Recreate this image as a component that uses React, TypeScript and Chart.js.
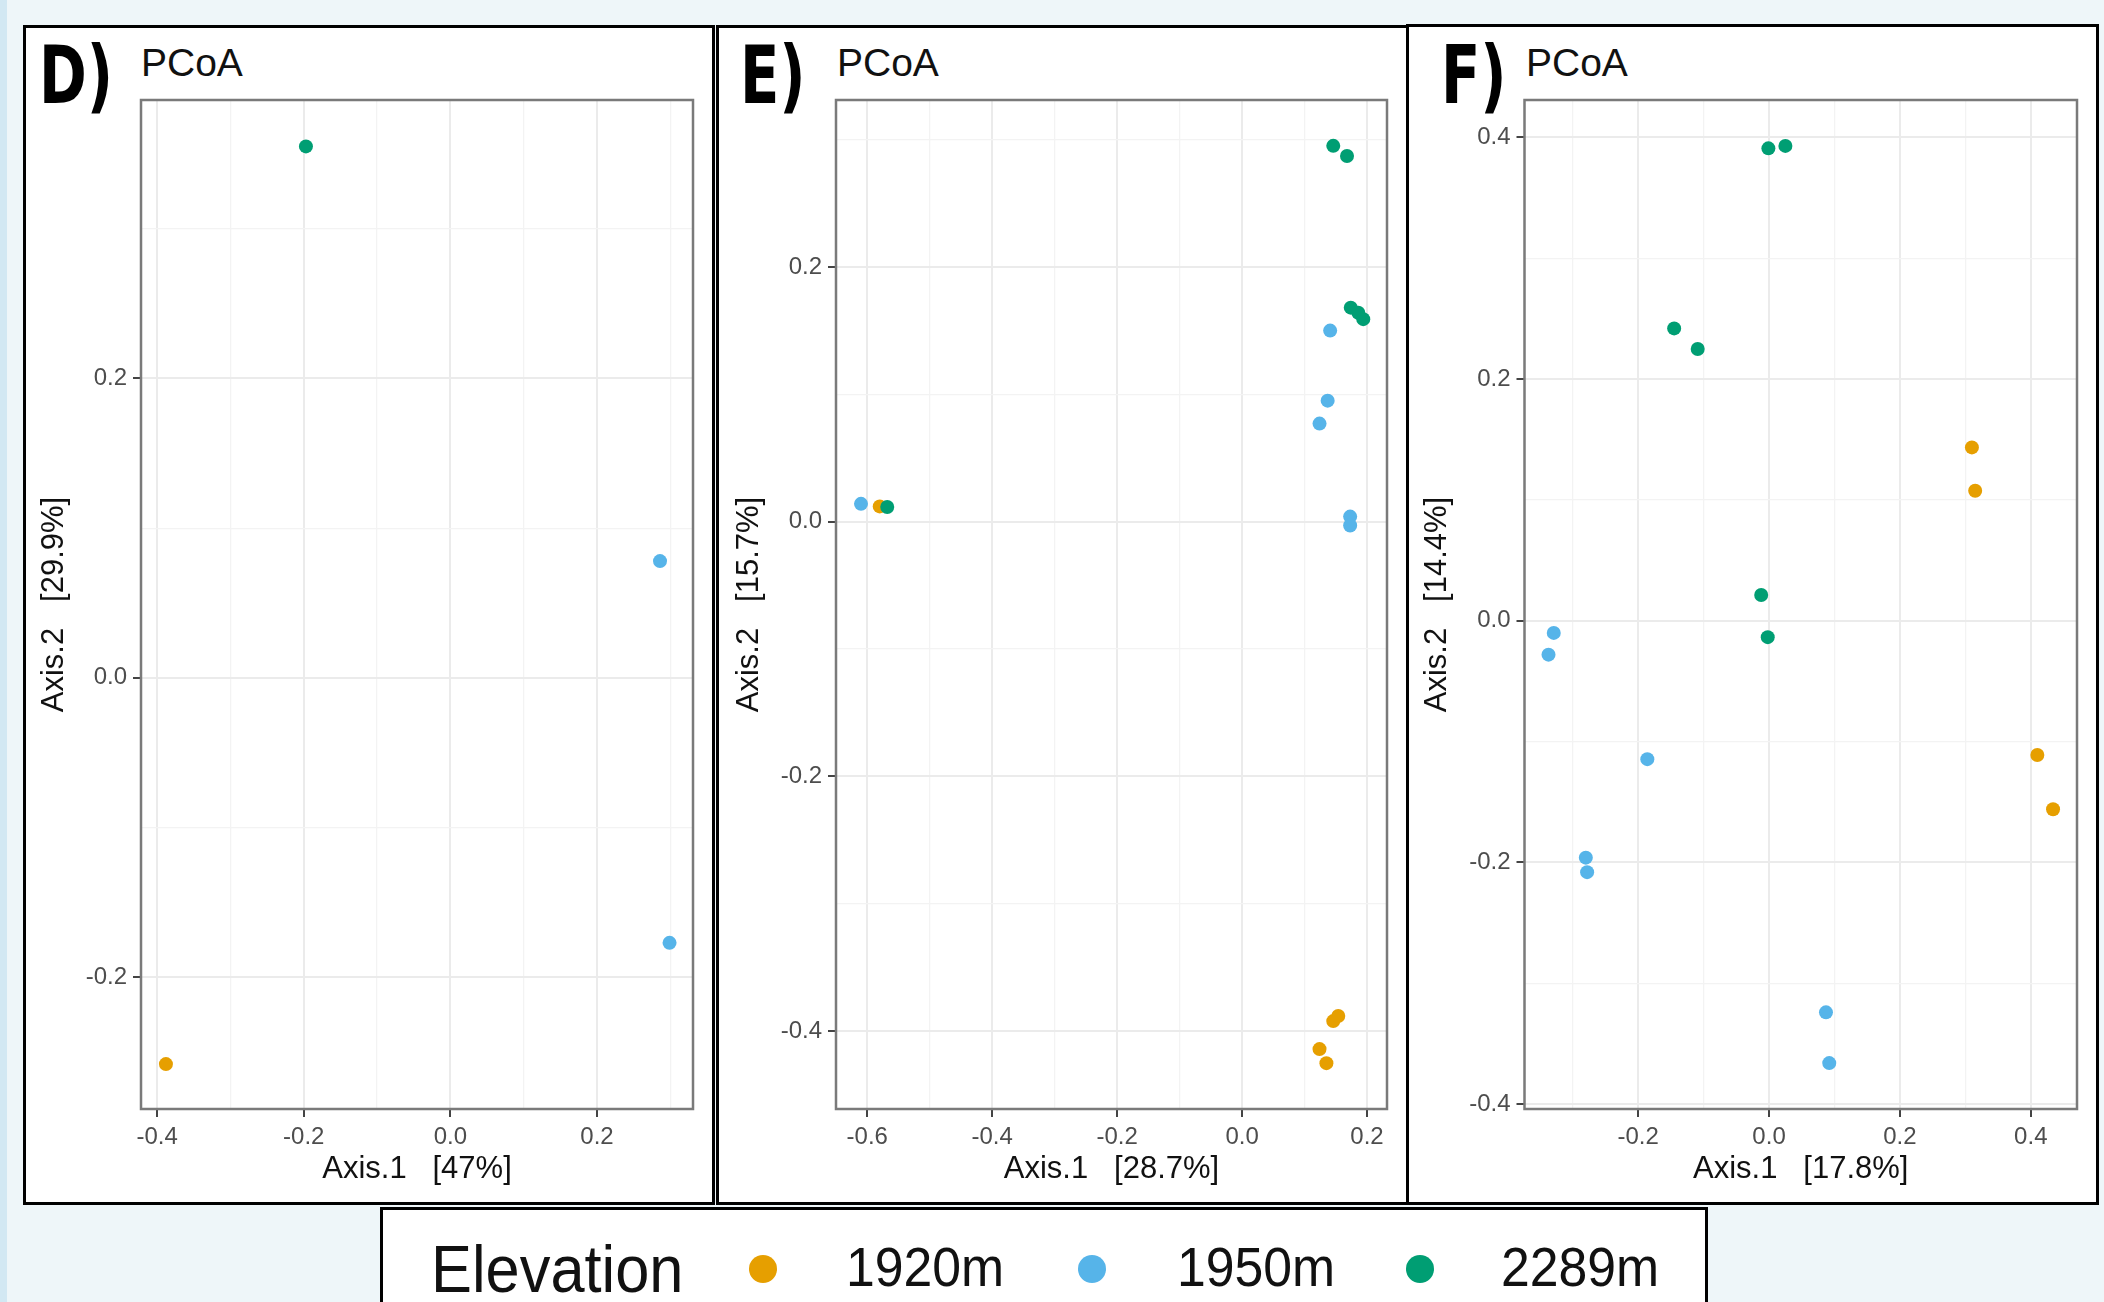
import React, { useEffect, useRef } from 'react';
import { Chart, registerables } from 'chart.js';
Chart.register(...registerables);

const ELEVATION_LABELS = ['1920m', '1950m', '2289m'];
const ELEVATION_COLORS = ['#E69F00', '#56B4E9', '#009E73'];

// Panel D
const D_1920_X = [-0.388];
const D_1920_Y = [-0.258];
const D_1950_X = [0.286, 0.299];
const D_1950_Y = [0.078, -0.177];
const D_2289_X = [-0.197];
const D_2289_Y = [0.355];

// Panel E
const E_1920_X = [0.146, 0.154, 0.124, 0.135, -0.58];
const E_1920_Y = [-0.392, -0.388, -0.414, -0.425, 0.012];
const E_1950_X = [0.141, 0.137, 0.124, 0.173, 0.173, -0.61];
const E_1950_Y = [0.15, 0.095, 0.077, 0.004, -0.003, 0.014];
const E_2289_X = [0.146, 0.168, 0.174, 0.186, 0.194, -0.568];
const E_2289_Y = [0.295, 0.287, 0.168, 0.164, 0.159, 0.0115];

// Panel F
const F_1920_X = [0.31, 0.315, 0.41, 0.434];
const F_1920_Y = [0.1435, 0.1076, -0.111, -0.156];
const F_1950_X = [-0.329, -0.337, -0.186, -0.28, -0.278, 0.087, 0.092];
const F_1950_Y = [-0.01, -0.028, -0.1145, -0.196, -0.208, -0.324, -0.366];
const F_2289_X = [-0.001, 0.025, -0.145, -0.109, -0.012, -0.002];
const F_2289_Y = [0.391, 0.393, 0.242, 0.225, 0.0213, -0.0135];

const PANEL_LETTERS = ['D)', 'E)', 'F)'];
const PANEL_TITLE = 'PCoA';
const X_TITLES = ['Axis.1   [47%]', 'Axis.1   [28.7%]', 'Axis.1   [17.8%]'];
const Y_TITLES = ['Axis.2   [29.9%]', 'Axis.2   [15.7%]', 'Axis.2   [14.4%]'];
const X_LIMITS = [[-0.422, 0.331], [-0.65, 0.232], [-0.3737, 0.4706]];
const Y_LIMITS = [[-0.288, 0.386], [-0.461, 0.331], [-0.404, 0.431]];
const SERIES = [
  [[D_1920_X, D_1920_Y], [D_1950_X, D_1950_Y], [D_2289_X, D_2289_Y]],
  [[E_1920_X, E_1920_Y], [E_1950_X, E_1950_Y], [E_2289_X, E_2289_Y]],
  [[F_1920_X, F_1920_Y], [F_1950_X, F_1950_Y], [F_2289_X, F_2289_Y]],
];

const LAYOUT = [
  { box: { left: 23, top: 25, width: 692, height: 1180 }, area: { left: 141, top: 100, right: 693, bottom: 1109 }, letterLeft: 39, titleLeft: 141, yTitlePad: 13 },
  { box: { left: 716, top: 25, width: 693, height: 1180 }, area: { left: 836, top: 100, right: 1387, bottom: 1109 }, letterLeft: 740, titleLeft: 837, yTitlePad: 15 },
  { box: { left: 1406, top: 24, width: 693, height: 1181 }, area: { left: 1524.5, top: 100, right: 2077, bottom: 1109 }, letterLeft: 1441, titleLeft: 1526, yTitlePad: 13 },
];

const SANS = '"Liberation Sans", Arial, Helvetica, sans-serif';

const isMajor = (v: number) => Math.abs(Math.round(v * 10)) % 2 === 0;
const fmt = (v: number) => {
  const r = Math.round(v * 10) / 10;
  return (r === 0 ? 0 : r).toFixed(1);
};

const framePlugin = {
  id: 'frame',
  afterDatasetsDraw(chart: any) {
    const { ctx, chartArea: a } = chart;
    ctx.save();
    ctx.strokeStyle = '#7A7A7A';
    ctx.lineWidth = 2.5;
    ctx.strokeRect(a.left, a.top, a.right - a.left, a.bottom - a.top);
    ctx.restore();
  },
};

function axisCommon(vertical: boolean, min: number, max: number, title: string, pad: any, fixedSize: number) {
  return {
    type: 'linear',
    min,
    max,
    border: { display: false },
    grid: {
      color: (c: any) => (c.tick && isMajor(c.tick.value) ? '#EBEBEB' : '#F3F3F3'),
      lineWidth: (c: any) => (c.tick && isMajor(c.tick.value) ? 2 : 1.3),
      tickColor: (c: any) => (c.tick && isMajor(c.tick.value) ? '#444444' : 'rgba(0,0,0,0)'),
      tickLength: 8,
      tickWidth: 2,
    },
    ticks: {
      stepSize: 0.1,
      includeBounds: false,
      autoSkip: false,
      maxRotation: 0,
      minRotation: 0,
      padding: 6,
      color: '#4D4D4D',
      font: { family: SANS, size: 24 },
      callback: (v: any) => (isMajor(Number(v)) ? fmt(Number(v)) : ''),
    },
    title: {
      display: true,
      text: title,
      color: '#111111',
      font: { family: SANS, size: 31 },
      padding: pad,
    },
    afterFit: (scale: any) => {
      if (vertical) scale.width = fixedSize;
      else scale.height = fixedSize;
    },
  };
}

function Panel({ idx }: { idx: number }) {
  const ref = useRef<HTMLCanvasElement>(null);
  const lay = LAYOUT[idx];
  useEffect(() => {
    const canvas = ref.current!;
    const { box, area } = lay;
    const yW = area.left - box.left;
    const xH = box.top + box.height - area.bottom;
    const padTop = area.top - box.top;
    const padRight = box.left + box.width - area.right;
    const order = [2, 1, 0];
    const datasets = order.map((k) => {
      const [xs, ys] = SERIES[idx][k];
      return {
        label: ELEVATION_LABELS[k],
        data: xs.map((x: number, i: number) => ({ x, y: ys[i] })),
        backgroundColor: ELEVATION_COLORS[k],
        borderColor: ELEVATION_COLORS[k],
        pointRadius: 7,
        pointBorderWidth: 0,
        pointHoverRadius: 7,
      };
    });
    const chart = new Chart(canvas, {
      type: 'scatter',
      data: { datasets } as any,
      options: {
        animation: false,
        responsive: false,
        devicePixelRatio: 1,
        layout: { padding: { top: padTop, right: padRight, left: 0, bottom: 0 } },
        plugins: { legend: { display: false }, tooltip: { enabled: false } },
        scales: {
          x: axisCommon(false, X_LIMITS[idx][0], X_LIMITS[idx][1], X_TITLES[idx], { top: 0, bottom: 17 }, xH),
          y: axisCommon(true, Y_LIMITS[idx][0], Y_LIMITS[idx][1], Y_TITLES[idx], { top: lay.yTitlePad, bottom: 0 }, yW),
        },
      } as any,
      plugins: [framePlugin],
    });
    return () => chart.destroy();
  }, []);
  const { box } = lay;
  return (
    <>
      <div
        style={{
          position: 'absolute',
          left: box.left,
          top: box.top,
          width: box.width,
          height: box.height,
          boxSizing: 'border-box',
          border: '3px solid #000',
          background: '#fff',
        }}
      />
      <div
        style={{
          position: 'absolute',
          left: lay.letterLeft,
          top: 36,
          fontFamily: '"Liberation Sans Narrow", "DejaVu Sans Condensed", sans-serif',
          fontWeight: 'bold',
          fontSize: 80,
          lineHeight: 1,
          color: '#000',
          whiteSpace: 'nowrap',
          transform: 'scaleX(0.8)',
          transformOrigin: 'left top',
        }}
      >
        {PANEL_LETTERS[idx]}
      </div>
      <div
        style={{
          position: 'absolute',
          left: lay.titleLeft,
          top: 43,
          fontFamily: SANS,
          fontSize: 39,
          lineHeight: 1,
          color: '#111',
          whiteSpace: 'nowrap',
        }}
      >
        {PANEL_TITLE}
      </div>
      <canvas
        ref={ref}
        width={box.width}
        height={box.height}
        style={{ position: 'absolute', left: box.left, top: box.top, width: box.width, height: box.height }}
      />
    </>
  );
}

const LEGEND_TITLE = 'Elevation';

export default function App() {
  const dotCenters = [763, 1092, 1420];
  const labelLefts = [846, 1177, 1501];
  return (
    <div
      style={{
        position: 'absolute',
        left: 0,
        top: 0,
        width: 2104,
        height: 1302,
        overflow: 'hidden',
        background: '#EEF6F9',
      }}
    >
      <div style={{ position: 'absolute', left: 0, top: 0, width: 7, height: 1302, background: '#D2E8F3' }} />
      {[0, 1, 2].map((i) => (
        <Panel key={i} idx={i} />
      ))}
      <div
        style={{
          position: 'absolute',
          left: 380,
          top: 1207,
          width: 1328,
          height: 140,
          boxSizing: 'border-box',
          border: '3px solid #000',
          background: '#fff',
        }}
      />
      <div
        style={{
          position: 'absolute',
          left: 431,
          top: 1236,
          fontFamily: SANS,
          fontSize: 66,
          lineHeight: 1,
          color: '#111',
          whiteSpace: 'nowrap',
          transform: 'scaleX(0.93)',
          transformOrigin: 'left top',
        }}
      >
        {LEGEND_TITLE}
      </div>
      {ELEVATION_LABELS.map((lab, k) => (
        <React.Fragment key={lab}>
          <div
            style={{
              position: 'absolute',
              left: dotCenters[k] - 14,
              top: 1269 - 14,
              width: 28,
              height: 28,
              borderRadius: '50%',
              background: ELEVATION_COLORS[k],
            }}
          />
          <div
            style={{
              position: 'absolute',
              left: labelLefts[k],
              top: 1240,
              fontFamily: SANS,
              fontSize: 55,
              lineHeight: 1,
              color: '#111',
              whiteSpace: 'nowrap',
              transform: 'scaleX(0.94)',
              transformOrigin: 'left top',
            }}
          >
            {lab}
          </div>
        </React.Fragment>
      ))}
    </div>
  );
}
